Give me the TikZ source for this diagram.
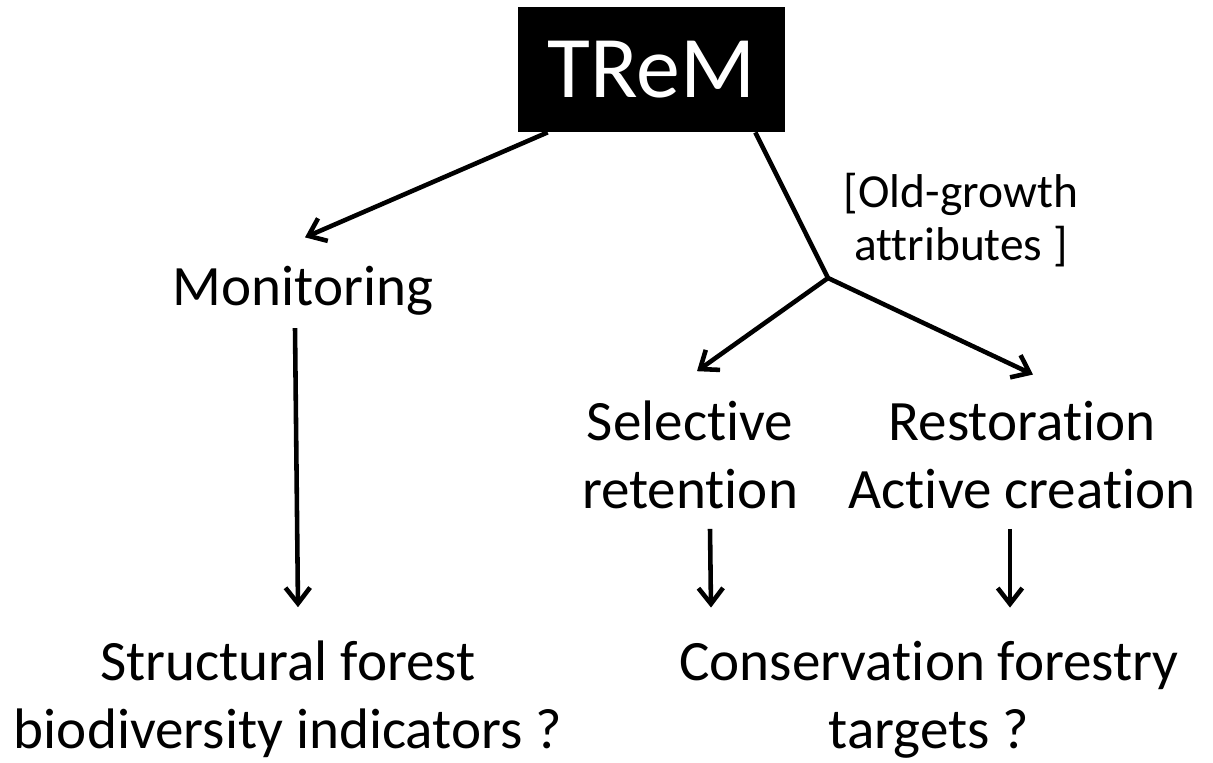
\documentclass[tikz,border=0pt]{standalone}
\usepackage{fontspec}
\setmainfont{Carlito}[Ligatures={NoCommon,NoContextual}]
\usetikzlibrary{arrows.meta,calc,positioning}

\begin{document}
\begin{tikzpicture}[x=0.02cm,y=-0.02cm,
    lbl/.style={font=\fontsize{32.5}{38.6}\selectfont, align=center, inner sep=0pt, anchor=base},
    arr/.style={line width=2.6pt, -{Straight Barb[length=9pt,width=14pt]}},
    ln/.style={line width=2.6pt}]
      \useasboundingbox (0,0) rectangle (1213,762);
      % Draw the box
      \node[fill=black, text=white, minimum width=5.34cm, minimum height=2.5cm, inner sep=0pt,
            font=\fontsize{50}{60}\selectfont] (trem) at (651.5,69.5) {TReM};
      % Draw the labels
      \node[lbl] (mon) at (303,305) {Monitoring};
      \node[lbl] (sel) at (690,508) {Selective\\retention};
      \node[lbl] (rest) at (1022,508) {Restoration\\Active creation};
      \node[lbl] (struct) at (288,748) {Structural forest\\biodiversity indicators ?};
      \node[lbl] (cons) at (929,748) {Conservation forestry\\targets ?};
      \node[lbl, font=\fontsize{27}{30}\selectfont] (attr) at (961,260) {[Old-growth\\attributes ]};
      \coordinate (fork) at (828,278);
      % Draw the arrows
      \draw[arr] ($(trem.south west)+(30,0)$) -- ($(mon.north)+(2,-28)$);
      \draw[ln, line join=miter] ($(trem.south east)+(-30,0)$) -- (fork);
      \draw[arr] (fork) -- ($(sel.north)+(7,-29)$);
      \draw[arr] (fork) -- ($(rest.north)+(11,-26)$);
      \draw[arr] ($(mon.south)+(-8,13)$) -- ($(struct.north)+(10,-33)$);
      \draw[arr] ($(sel.south)+(20,20)$) -- ($(cons.north)+(-218,-33)$);
      \draw[arr] ($(rest.south)+(-12,20)$) -- ($(cons.north)+(81,-33)$);
\end{tikzpicture}
\end{document}
